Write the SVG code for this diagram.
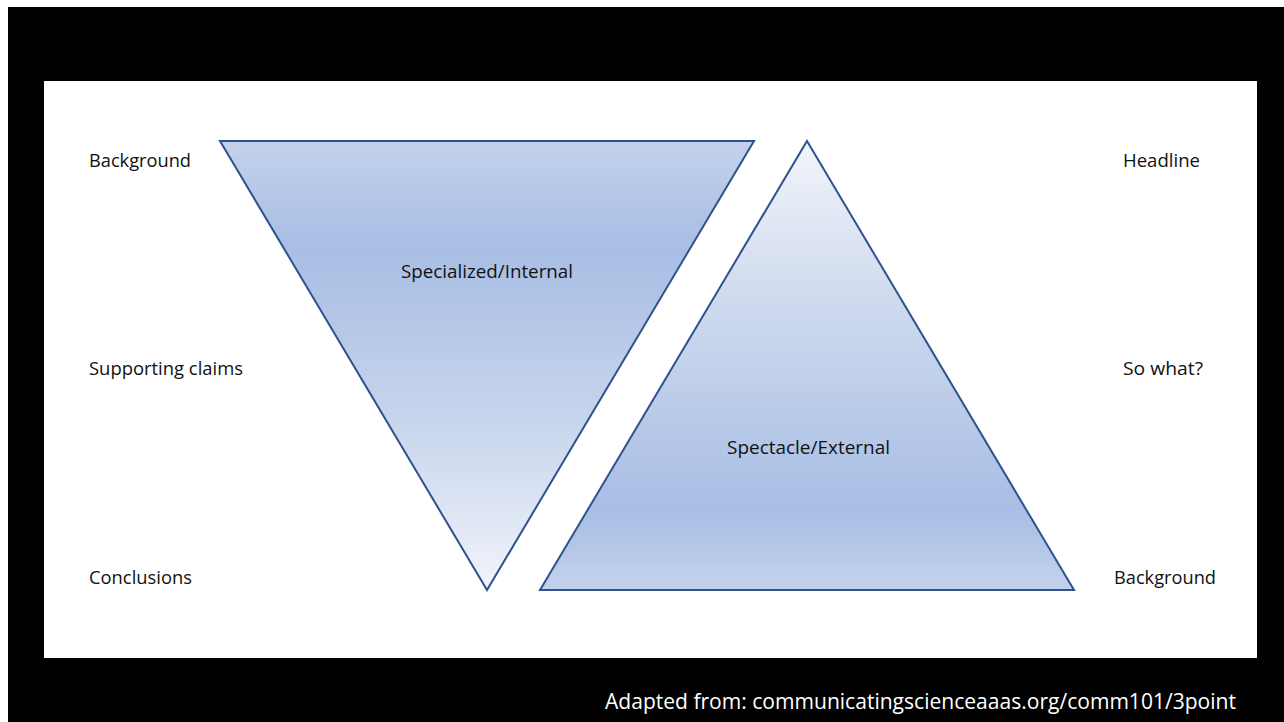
<svg xmlns="http://www.w3.org/2000/svg" width="1284" height="722" viewBox="0 0 1284 722">
  <defs>
    <!-- inverted funnel: strong near the top, fading out toward the point -->
    <linearGradient id="gradDown" gradientUnits="userSpaceOnUse" x1="0" y1="141" x2="0" y2="590">
      <stop offset="0" stop-color="#c3d1eb"/>
      <stop offset="0.24" stop-color="#a8bee4"/>
      <stop offset="0.62" stop-color="#c7d4ec"/>
      <stop offset="1" stop-color="#f1f4fa"/>
    </linearGradient>
    <!-- upright pyramid: pale at the apex, strongest near the base -->
    <linearGradient id="gradUp" gradientUnits="userSpaceOnUse" x1="0" y1="141" x2="0" y2="590">
      <stop offset="0" stop-color="#f1f4fa"/>
      <stop offset="0.4" stop-color="#cbd7ed"/>
      <stop offset="0.82" stop-color="#a8bee4"/>
      <stop offset="1" stop-color="#c3d1eb"/>
    </linearGradient>
    <style>
      .tri { stroke: #2f528f; stroke-width: 2; stroke-linejoin: miter; }
      .lbl { font-family: "Open Sans", "Liberation Sans", sans-serif; font-size: 18px; fill: #111111; }
      .note { font-family: "Open Sans", "Liberation Sans", sans-serif; font-size: 22px; fill: #ffffff; }
    </style>
  </defs>

  <!-- frame -->
  <rect x="0" y="0" width="1284" height="722" fill="#ffffff"/>
  <rect x="8" y="7" width="1276" height="715" fill="#000000"/>
  <rect x="44" y="81" width="1213" height="577" fill="#ffffff"/>

  <g id="connectors"/>

  <g id="specialized">
    <polygon class="tri" points="220,141 754,141 487,590" fill="url(#gradDown)"/>
    <text class="lbl" x="401" y="278" textLength="172" lengthAdjust="spacingAndGlyphs">Specialized/Internal</text>
  </g>

  <g id="spectacle">
    <polygon class="tri" points="807,141 1074,590 540,590" fill="url(#gradUp)"/>
    <text class="lbl" x="727" y="454" textLength="163" lengthAdjust="spacingAndGlyphs">Spectacle/External</text>
  </g>

  <g id="left-labels">
    <text class="lbl" x="89" y="167" textLength="102" lengthAdjust="spacingAndGlyphs">Background</text>
    <text class="lbl" x="89" y="375" textLength="154" lengthAdjust="spacingAndGlyphs">Supporting claims</text>
    <text class="lbl" x="89" y="584" textLength="103" lengthAdjust="spacingAndGlyphs">Conclusions</text>
  </g>

  <g id="right-labels">
    <text class="lbl" x="1123" y="167" textLength="77" lengthAdjust="spacingAndGlyphs">Headline</text>
    <text class="lbl" x="1123" y="375" textLength="80" lengthAdjust="spacingAndGlyphs">So what?</text>
    <text class="lbl" x="1114" y="584" textLength="102" lengthAdjust="spacingAndGlyphs">Background</text>
  </g>

  <g id="source-note">
    <text class="note" x="605" y="709" textLength="631" lengthAdjust="spacingAndGlyphs">Adapted from: communicatingscienceaaas.org/comm101/3point</text>
  </g>
</svg>
